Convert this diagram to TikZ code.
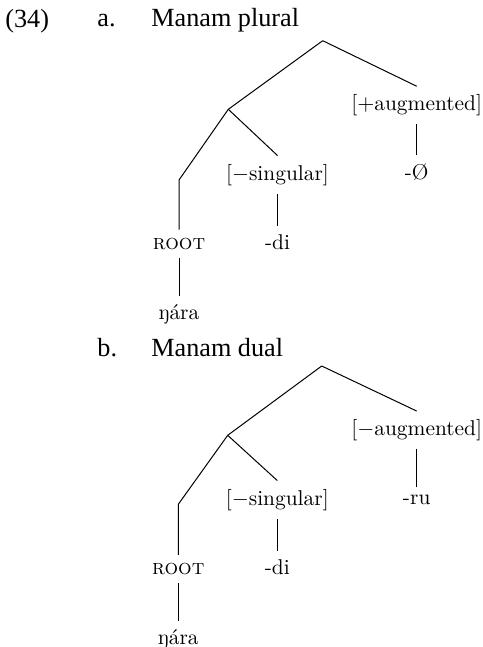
\documentclass[tikz,border=0pt]{standalone}
\usepackage{fontspec}
\newfontfamily\headfont{Liberation Serif}
\begin{document}
\begin{tikzpicture}[x=0.5pt,y=-0.5pt,
  lbl/.style={anchor=base,inner sep=4pt,font=\fontsize{10.7}{13}\selectfont},
  head/.style={anchor=base west,inner sep=0pt,font=\headfont\fontsize{13.1}{15}\selectfont},
  edge/.style={line width=0.5pt,black}]
\useasboundingbox (0,0) rectangle (482,647);
% headings
\node[head] (num) at (5,27.5) {(34)};
\node[head] (la) at (97,27) {a.};
\node[head] (ta) at (151,27) {Manam plural};
\node[head] (lb) at (97,356) {b.};
\node[head] (tb) at (151,356) {Manam dual};
% tree a
\coordinate (a-top) at (322.7,40.7);
\coordinate (a-mid) at (228.3,109.3);
\coordinate (a-e) at (179,180);
\node[lbl] (a-aug) at (416.7,110.7) {[$+$augmented]};
\node[lbl] (a-null) at (416.7,179.3) {-Ø};
\node[lbl] (a-sg) at (277.5,180) {[$-$singular]};
\node[lbl] (a-di) at (277.5,249.3) {-di};
\node[lbl] (a-root) at (179,249.3) {\textsc{root}};
\node[lbl] (a-ng) at (179,319) {ŋára};
\draw[edge] (a-top) -- (a-aug.north);
\draw[edge] (a-top) -- (a-mid);
\draw[edge] (a-mid) -- (a-sg.north);
\draw[edge] (a-mid) -- (a-e) -- (a-root.north);
\draw[edge] (a-aug.south) -- (a-null.north);
\draw[edge] (a-sg.south) -- (a-di.north);
\draw[edge] (a-root.south) -- (a-ng.north);
% tree b
\coordinate (b-top) at (321.7,366);
\coordinate (b-mid) at (227.7,435.3);
\coordinate (b-e) at (178.3,504.3);
\node[lbl] (b-aug) at (416.7,435.5) {[$-$augmented]};
\node[lbl] (b-ru) at (416.7,504.5) {-ru};
\node[lbl] (b-sg) at (277.3,505) {[$-$singular]};
\node[lbl] (b-di) at (277.3,574.5) {-di};
\node[lbl] (b-root) at (178.3,574.5) {\textsc{root}};
\node[lbl] (b-ng) at (178.3,644) {ŋára};
\draw[edge] (b-top) -- (b-aug.north);
\draw[edge] (b-top) -- (b-mid);
\draw[edge] (b-mid) -- (b-sg.north);
\draw[edge] (b-mid) -- (b-e) -- (b-root.north);
\draw[edge] (b-aug.south) -- (b-ru.north);
\draw[edge] (b-sg.south) -- (b-di.north);
\draw[edge] (b-root.south) -- (b-ng.north);
\end{tikzpicture}
\end{document}
